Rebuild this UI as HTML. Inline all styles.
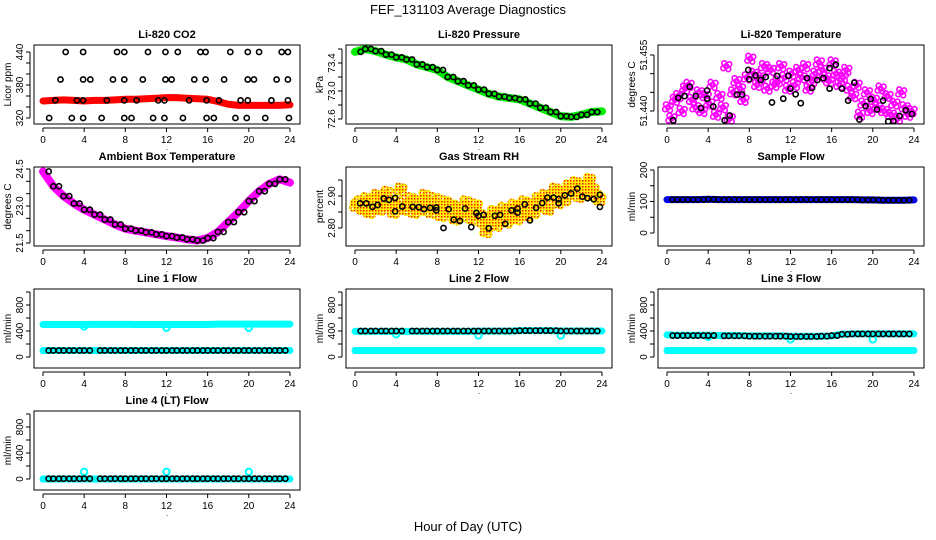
<!DOCTYPE html>
<html><head><meta charset="utf-8"><style>
body{margin:0;background:#fff}
svg{display:block;font-family:"Liberation Sans",sans-serif}
</style></head><body>
<svg id="chart" width="936" height="540" xmlns="http://www.w3.org/2000/svg">
<defs>
<pattern id="rhpat" width="3" height="3" patternUnits="userSpaceOnUse"><rect width="3" height="3" fill="#ffee00"/><rect width="1.5" height="1.5" fill="#ee2200"/></pattern>
</defs>
<text x="468" y="14" text-anchor="middle" font-size="13">FEF_131103  Average Diagnostics</text>
<text x="468" y="531" text-anchor="middle" font-size="13">Hour of Day (UTC)</text>
</svg>
<script>
// ---- data ----
const hours = [0,1,2,3,4,5,6,7,8,9,10,11,12,13,14,15,16,17,18,19,20,21,22,23,24];
const xTicks = [0,4,8,12,16,20,24];
// CO2
const co2Red = [351,352,353,352,351,352,352,353,354,354,355,356,357,357,356,355,354,350,345,343,343,343,343,343,344];
const co2BlackH = [2.2,3.9,7.2,7.9,10.2,11.9,13.1,15.3,15.8,18.2,19.9,21.0,23.2,23.8, 1.7,3.9,4.6,6.8,7.9,9.7,11.9,12.5,14.7,15.8,17.6,19.9,20.5,22.7,23.8, 1.2,3.3,3.9,6.2,7.9,9.1,11.2,11.8,14.2,15.9,17.1,19.2,19.9,22.2,23.8, 0.6,2.8,3.9,5.7,7.9,8.6,10.7,11.8,13.6,15.9,16.6,18.7,19.8,21.6,23.9];
const co2BlackV = [440,440,440,440,440,440,440,440,440,440,440,440,440,440, 390,390,390,390,390,390,390,390,390,390,390,390,390,390,390, 352,352,352,352,352,352,352,352,352,352,352,352,352,352,352, 320,320,320,320,320,320,320,320,320,320,320,320,320,320,320];
// Pressure
const presGreen = [73.56,73.6,73.57,73.52,73.48,73.45,73.38,73.34,73.3,73.2,73.14,73.08,73.02,72.96,72.92,72.9,72.88,72.82,72.76,72.7,72.64,72.63,72.66,72.7,72.71];
// Li temp
const tempPinkV = [51.441,51.438,51.443,51.444,51.440,51.446,51.447,51.443,51.441,51.445,51.440,51.444,51.442,51.447,51.439,51.444,51.441,51.452,51.438,51.445,51.448,51.446,51.443,51.449,51.454,51.450,51.447,51.449,51.452,51.446,51.451,51.447,51.448,51.452,51.449,51.446,51.450,51.447,51.451,51.449,51.452,51.446,51.448,51.450,51.453,51.451,51.449,51.448,51.453,51.450,51.447,51.449,51.451,51.446,51.444,51.447,51.439,51.442,51.445,51.440,51.443,51.441,51.446,51.440,51.444,51.439,51.442,51.438,51.445,51.441,51.439,51.440];
const tempBlackH = [0.6,1.1,1.7,2.2,2.8,3.3,3.9,3.9,4.5,5.6,6.1,6.8,7.3,7.9,8.0,8.6,9.1,9.6,10.2,10.7,11.3,11.8,12.0,12.5,13.0,13.6,14.1,14.6,15.2,15.8,15.8,16.4,17.0,17.6,18.2,18.7,19.3,19.8,20.4,21.0,21.5,22.0,22.6,23.2,23.8];
const tempBlackV = [51.4375,51.4435,51.444,51.4465,51.444,51.4408,51.4433,51.4455,51.4412,51.4375,51.4388,51.4444,51.4444,51.451,51.4485,51.4495,51.4483,51.4491,51.4423,51.4494,51.4433,51.4494,51.446,51.4445,51.4421,51.4488,51.4462,51.4483,51.4488,51.446,51.4515,51.4524,51.446,51.4428,51.4476,51.4377,51.4413,51.4432,51.4404,51.4428,51.4372,51.4373,51.4387,51.4402,51.4392];
// Ambient
const ambPink = [24.4,23.8,23.4,23.1,22.85,22.65,22.45,22.25,22.08,22.0,21.93,21.85,21.78,21.72,21.65,21.6,21.7,21.95,22.35,22.75,23.2,23.6,23.9,24.08,23.95];
// RH
const rhOrangeV = [2.87,2.88,2.86,2.89,2.85,2.87,2.90,2.86,2.88,2.91,2.87,2.85,2.88,2.92,2.86,2.87,2.89,2.85,2.88,2.86,2.90,2.87,2.85,2.89,2.86,2.84,2.88,2.85,2.87,2.83,2.86,2.84,2.88,2.85,2.83,2.87,2.84,2.82,2.79,2.83,2.85,2.81,2.84,2.86,2.82,2.85,2.87,2.83,2.86,2.88,2.84,2.87,2.85,2.89,2.88,2.90,2.86,2.90,2.92,2.88,2.91,2.89,2.93,2.92,2.94,2.90,2.93,2.91,2.95,2.92,2.90,2.89];
const rhBlackH = [0.5,1.1,1.7,2.2,2.8,3.3,3.9,3.9,4.6,5.6,6.2,6.7,7.3,7.9,7.9,8.6,9.1,9.6,10.2,10.7,11.3,11.8,12.0,12.5,13.0,13.6,14.1,14.6,15.2,15.8,15.8,16.5,17.0,17.6,18.2,18.7,19.3,19.8,19.8,20.4,21.0,21.6,22.1,22.6,23.2,23.8,23.8];
const rhBlackV = [2.877,2.877,2.866,2.872,2.892,2.888,2.894,2.852,2.867,2.866,2.865,2.859,2.863,2.864,2.855,2.800,2.859,2.826,2.822,2.861,2.803,2.847,2.838,2.841,2.799,2.838,2.841,2.813,2.855,2.861,2.848,2.874,2.824,2.863,2.878,2.895,2.895,2.890,2.877,2.902,2.908,2.923,2.898,2.893,2.890,2.904,2.866];
// Sample flow
const sampleBlue = [106,106,106,106,107,106,106,106,106,106,106,106,106,106,106,106,106,106,106,105,105,104,104,104,105];
// Line flows
const line1Cyan = [500,500,500,500,500,502,502,502,502,500,500,500,500,500,500,500,500,505,505,505,505,505,505,505,505];
const line1Black = [100,100,100,100,100,100,100,100,100,100,100,100,100,100,100,100,100,100,100,100,100,100,100,100,100];
const line1Low = [100,100,100,100,100,100,100,100,100,100,100,100,100,100,100,100,100,100,100,100,100,100,100,100,100];
const line1OutH = [4,12,20];
const line1OutV = [470,450,450];
const line2Cyan = [395,395,395,395,395,395,395,395,395,395,395,395,398,398,398,398,405,405,405,405,400,400,400,400,400];
const line2Black = [400,400,400,400,400,400,400,400,400,400,400,400,400,400,400,400,405,405,405,405,400,400,400,400,400];
const line2Low = [100,100,100,100,100,100,100,100,100,100,100,100,100,100,100,100,100,100,100,100,100,100,100,100,100];
const line2OutH = [4,12,20];
const line2OutV = [350,330,330];
const line3Cyan = [340,335,335,335,335,330,330,330,325,325,325,325,320,320,320,320,325,350,355,355,355,355,355,355,355];
const line3Black = [330,330,330,330,330,325,325,325,320,320,320,320,315,315,315,320,330,350,355,355,355,355,355,355,358];
const line3Low = [100,100,100,100,100,100,100,100,100,100,100,100,100,100,100,100,100,100,100,100,100,100,100,100,100];
const line3OutH = [4,12,20];
const line3OutV = [310,270,270];
const line4Cyan = [0,0,0,0,0,0,0,0,0,0,0,0,0,0,0,0,0,0,0,0,0,0,0,0,0];
const line4Black = [5,5,5,5,5,5,5,5,5,5,5,5,5,5,5,5,5,5,5,5,5,5,5,5,5];
const line4OutH = [4,12,20];
const line4OutV = [110,110,110];

// ---- drawing ----
const NS = "http://www.w3.org/2000/svg";
const svg = document.getElementById("chart");
function el(tag, attrs, parent){
  const e = document.createElementNS(NS, tag);
  for (const k in attrs) e.setAttribute(k, attrs[k]);
  (parent||svg).appendChild(e);
  return e;
}
const BOXW = 266, BOXH = 79;
function makePanel(col, row, name, title, ylab, v1, r1, v2, r2, ticks, labels, labelFmt){
  const x0 = 34 + 312*col, y0 = 45 + 122*row;
  const g = el("g", {});
  
  
  const sx = h => x0 + 9 + h*10.29;
  const sy = v => y0 + r1 + (v - v1)*(r2 - r1)/(v2 - v1);
  const t = el("text", {x: x0 + BOXW/2, y: y0 - 7, "text-anchor":"middle", "font-size":"11", "font-weight":"bold"}, g);
  t.textContent = title;
  
  
  const yl = el("text", {transform:`translate(${x0-23},${y0+BOXH/2}) rotate(-90)`, "text-anchor":"middle", "font-size":"10"}, g);
  yl.textContent = ylab;
  
  
  const yt = ticks.map(sy);
  el("line", {x1:x0-4, x2:x0-4, y1:Math.min(...yt), y2:Math.max(...yt), stroke:"#000"}, g);
  ticks.forEach(v => {
    el("line", {x1:x0-8, x2:x0-4, y1:sy(v), y2:sy(v), stroke:"#000"}, g);
  });
  labels.forEach(v => {
    const lt = el("text", {transform:`translate(${x0-11},${sy(v)}) rotate(-90)`, "text-anchor":"middle", "font-size":"10"}, g);
    lt.textContent = labelFmt(v);
    
    
  });
  el("line", {x1:sx(0), x2:sx(24), y1:y0+BOXH+4, y2:y0+BOXH+4, stroke:"#000"}, g);
  xTicks.forEach(h => {
    el("line", {x1:sx(h), x2:sx(h), y1:y0+BOXH+4, y2:y0+BOXH+8, stroke:"#000"}, g);
    const xt = el("text", {x:sx(h), y:y0+BOXH+19, "text-anchor":"middle", "font-size":"10"}, g);
    xt.textContent = h;
    
    
  });
  const dot = el("text", {x:x0+BOXW/2, y:y0+BOXH+26, "text-anchor":"middle", "font-size":"8"}, g);
  dot.textContent = ".";
  const cid = "c"+col+"_"+row;
  const cp = el("clipPath", {id:cid}, g);
  el("rect", {x:x0, y:y0, width:BOXW, height:BOXH}, cp);
  const plot = el("g", {"clip-path":`url(#${cid})`}, g);
  el("rect", {x:x0, y:y0, width:BOXW, height:BOXH, fill:"none", stroke:"#000"}, g);
  return {sx, sy, plot};
}
function band(p, hs, vs, color, w, name){
  const pts = hs.map((h,i)=>p.sx(h)+","+p.sy(vs[i])).join(" ");
  const pl = el("polyline", {points:pts, fill:"none", stroke:color, "stroke-width":w, "stroke-linejoin":"round", "stroke-linecap":"round"}, p.plot);
  
  
}
function dots(p, hs, vs, color, r, sw, name){
  hs.forEach((h,i)=>{
    const c = el("circle", {cx:p.sx(h), cy:p.sy(vs[i]), r:r, fill:"none", stroke:color, "stroke-width":sw}, p.plot);
    
    
  });
}
// each sample drawn as a small cluster of open circles (dense raw readings look)
const cluster = [[0,0],[-3,2],[3,-2],[-2,-3],[2,3]];
function cloud(p, hs, vs, color, r, sw, name){
  hs.forEach((h,i)=>{
    cluster.forEach(o=>{
      const c = el("circle", {cx:p.sx(h)+o[0], cy:p.sy(vs[i])+o[1], r:r, fill:"none", stroke:color, "stroke-width":sw}, p.plot);
      
      
    });
  });
}
function halfDots(p, vs, color, name, skipFrom, skipTo){
  const hs=[], v=[];
  for (let i=0;i<vs.length;i++){
    [0.55,1.1].forEach(o=>{const h=i+o-0.55; if(h>=0.5&&h<=23.9&&!(h>skipFrom&&h<skipTo)){hs.push(h);v.push(vs[i]);}});
  }
  dots(p, hs, v, color, 2.6, 1.6, name);
}
const thirds = [];
for (let h=0; h<24; h++){ thirds.push(h+0.1, h+0.43, h+0.76); }
const f0 = v=>String(v), f1 = v=>v.toFixed(1), f2 = v=>v.toFixed(2), f3 = v=>v.toFixed(3);

let p = makePanel(0,0,"co2-panel","Li-820 CO2","Licor ppm",320,73,440,7,[320,340,360,380,400,420,440],[320,380,440],f0);
band(p, hours, co2Red, "#ff0000", 7, "co2-series");
dots(p, co2BlackH, co2BlackV, "#000", 2.6, 1.6, "co2-point");

p = makePanel(1,0,"pressure-panel","Li-820 Pressure","kPa",73.4,18,72.6,74,[72.6,72.8,73.0,73.2,73.4,73.6],[72.6,73.0,73.4],f1);
band(p, hours, presGreen, "#00ee00", 8, "pressure-series");
halfDots(p, presGreen, "#000", "pressure-point", 99, 99);

p = makePanel(2,0,"li-temperature-panel","Li-820 Temperature","degrees C",51.440,66,51.455,10,[51.440,51.445,51.450,51.455],[51.440,51.455],f3);
cloud(p, thirds, tempPinkV, "#ff00ff", 2.4, 1.6, "li-temperature-sample");
dots(p, tempBlackH, tempBlackV, "#000", 2.6, 1.6, "li-temperature-point");

p = makePanel(0,1,"ambient-temperature-panel","Ambient Box Temperature","degrees C",24.5,2,21.5,76,[21.5,22,22.5,23,23.5,24,24.5],[21.5,23.0,24.5],f1);
band(p, hours, ambPink, "#ff00ff", 8, "ambient-series");
halfDots(p, ambPink, "#000", "ambient-point", 99, 99);

p = makePanel(1,1,"gas-rh-panel","Gas Stream RH","percent",2.80,61,2.90,29,[2.80,2.85,2.90,2.95],[2.80,2.90],f2);
cloud(p, thirds, rhOrangeV, "url(#rhpat)", 2.8, 2.6, "rh-sample");
dots(p, rhBlackH, rhBlackV, "#000", 2.6, 1.6, "rh-point");

p = makePanel(2,1,"sample-flow-panel","Sample Flow","ml/min",0,66,200,3,[0,50,100,150,200],[0,100,200],f0);
band(p, hours, sampleBlue, "#0000ee", 7, "sample-flow-series");
halfDots(p, sampleBlue, "#000", "sample-flow-point", 99, 99);

function flowPanel(col,row,name,title,cyan,black,low,outH,outV,skipFrom,skipTo){
  const q = makePanel(col,row,name,title,"ml/min",0,68,800,16,[0,200,400,600,800,1000],[0,400,800],f0);
  band(q, hours, cyan, "#00ffff", 7, name+"-cyan-series");
  if (low) band(q, hours, low, "#00ffff", 7, name+"-low-series");
  dots(q, outH, outV, "#00ffff", 3.2, 2, name+"-outlier");
  halfDots(q, black, "#000", name+"-point", skipFrom, skipTo);
}
flowPanel(0,2,"line1-flow-panel","Line 1 Flow",line1Cyan,line1Black,line1Low,line1OutH,line1OutV,4.7,5.4);
flowPanel(1,2,"line2-flow-panel","Line 2 Flow",line2Cyan,line2Black,line2Low,line2OutH,line2OutV,4.7,5.4);
flowPanel(2,2,"line3-flow-panel","Line 3 Flow",line3Cyan,line3Black,line3Low,line3OutH,line3OutV,4.7,5.4);
flowPanel(0,3,"line4-flow-panel","Line 4 (LT) Flow",line4Cyan,line4Black,null,line4OutH,line4OutV,4.7,5.4);
</script>
</body></html>
